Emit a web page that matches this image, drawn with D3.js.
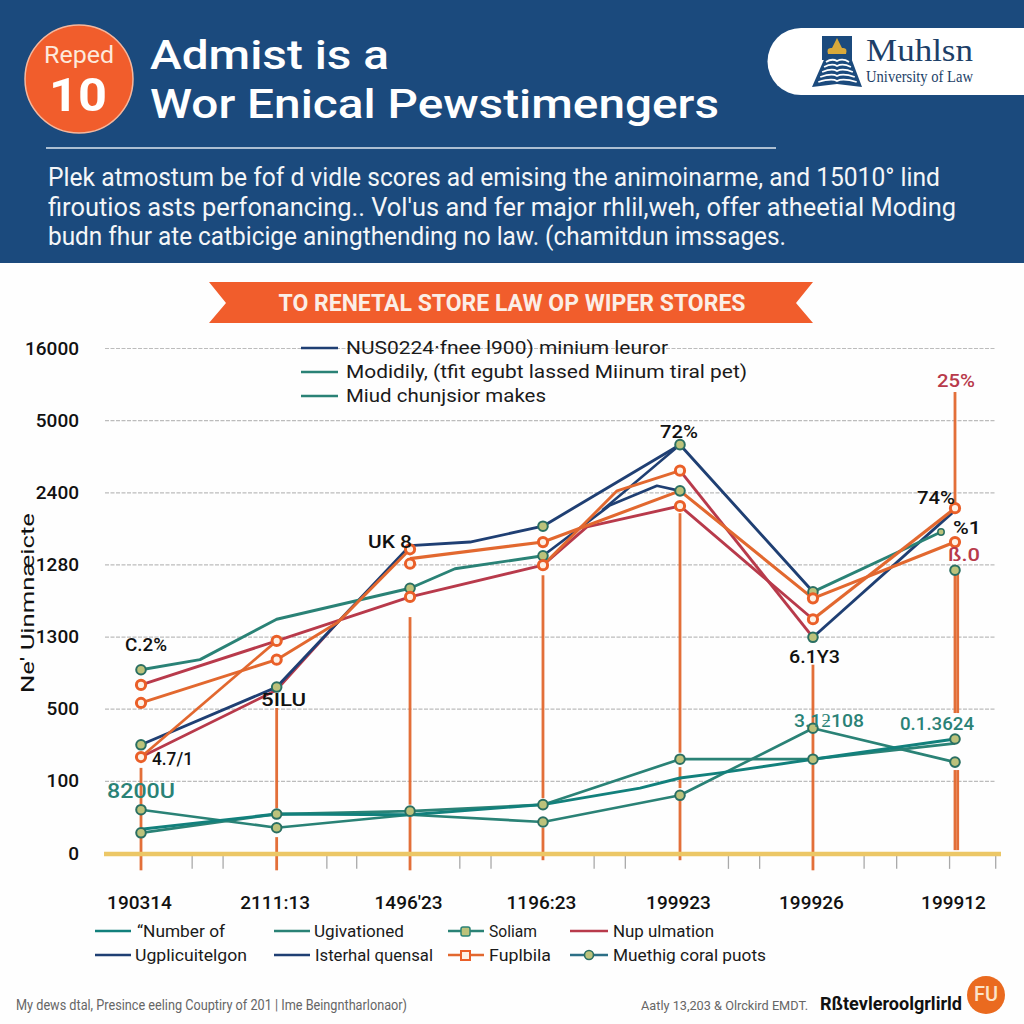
<!DOCTYPE html>
<html><head><meta charset="utf-8">
<script src="https://cdn.jsdelivr.net/npm/d3@7/dist/d3.min.js"></script>
<style>html,body{margin:0;padding:0;background:#fefefe}svg{display:block}</style>
</head><body><svg id="c" width="1024" height="1024"></svg>
<script>
// ---------- data ----------
const yTickLabels = ["0","100","500","1300","1280","2400","5000","16000"];
const xTickLabels = ["190314","2111:13","1496'23","1196:23","199923","199926","199912"];
const xCategoryPos = [0,1,1.983,2.963,3.973,4.953,6];
// each point: [position along x axis, position along the y tick ladder]
const navyA = [[0,1.50],[1,2.30],[1.983,4.26],[2.425,4.31],[2.963,4.53],[3.973,5.66],[4.953,3.62]];
const navyB = [[2.963,4.12],[3.457,4.82],[3.803,5.09],[3.973,5.02]];
const navyC = [[4.953,2.99],[6,4.75]];
const navyD = [[3.4,4.75],[3.973,5.66]];
const tealA = [[0,2.54],[0.435,2.68],[1,3.24],[1.983,3.67],[2.314,3.94],[2.963,4.12]];
const tealB = [[4.953,3.62],[5.897,4.45]];
const crimsonA = [[0,2.33],[1,2.94],[1.983,3.55],[2.963,3.99],[3.287,4.52],[3.973,4.81],[4.953,3.24]];
const crimsonB = [[0,1.33],[1,2.26],[1.452,3.20]];
const crimsonC = [[3.973,5.30],[4.953,2.99]];
const orangeA = [[0,2.08],[1,2.68],[1.452,3.20],[1.983,4.21]];
const orangeB = [[0,1.33],[1,2.94]];
const orangeC = [[1.983,4.08],[2.963,4.31],[3.973,5.02],[4.953,3.53],[6,4.31]];
const orangeD = [[2.963,3.99],[3.509,5.02],[3.973,5.30]];
const orangeE = [[4.953,3.24],[6,4.78]];
const lowA = [[0,0.60],[1,0.35],[1.983,0.53],[2.963,0.43],[3.973,0.80],[4.953,1.73],[6,1.26]];
const lowB = [[0,0.28],[1,0.54],[1.983,0.58],[2.963,0.67],[3.973,1.30],[4.953,1.30],[6,1.52]];
const lowC = [[0,0.33],[1,0.54],[1.983,0.53],[2.963,0.67],[3.678,0.90],[3.973,1.04],[4.268,1.11],[4.953,1.30],[6,1.58]];
const greenMarkers = [[0,2.54],[0,1.50],[0,0.60],[0,0.28],[1,2.30],[1,0.54],[1,0.35],[1.983,3.67],[1.983,0.58],
  [2.963,4.53],[2.963,4.12],[2.963,0.67],[2.963,0.43],[3.973,5.66],[3.973,5.02],[3.973,1.30],[3.973,0.80],
  [4.953,3.62],[4.953,2.99],[4.953,1.73],[4.953,1.30],[6,3.92],[6,1.58],[6,1.26]];
const orangeMarkers = [[0,2.33],[0,2.08],[0,1.33],[1,2.94],[1,2.68],[1.983,4.21],[1.983,4.01],[1.983,3.55],
  [2.963,4.31],[2.963,3.99],[3.973,5.30],[3.973,4.81],[4.953,3.53],[4.953,3.24],[6,4.78],[6,4.31]];
// vertical stems: [x, from, to]
const stems = [[0,1.18,.67],[0,.53,.35],[0,.21,-.24],[1,2.01,.62],[1,.22,-.24],[1.983,3.27,.67],[1.983,.50,-.24],
  [2.963,3.85,.76],[2.963,.35,-.1],[3.973,4.71,1.39],[3.973,1.19,.90],[3.973,.73,-.1],
  [4.953,2.61,1.80],[4.953,1.66,1.36],[4.953,1.22,-.24],[6,6.39,4.85],[6,3.92,1.94],[6,1.15,.04],[6.02,3.92,1.94],[6.02,1.15,.04]];
const minorTicks = [0.377,0.605,1.37,1.59,2.35,2.58,3.34,3.57,4.33,4.56,5.33,5.57,5.96,6.3];
const topLegend = ["NUS0224·fnee l900) minium leuror","Modidily, (tfit egubt lassed Miinum tiral pet)","Miud chunjsior makes"];
const bottomLegendRow1 = ["\u201CNumber of","Ugivationed","Soliam","Nup ulmation"];
const bottomLegendRow2 = ["Ugplicuitelgon","Isterhal quensal","Fuplbila","Muethig coral puots"];
const paragraph = ["Plek atmostum be fof d vidle scores ad emising the animoinarme, and 15010° lind",
  "firoutios asts perfonancing.. Vol'us and fer major rhlil,weh, offer atheetial  Moding",
  "budn fhur ate catbicige aningthending no law. (chamitdun imssages."];

// ---------- setup ----------
const svg = d3.select("#c");
const x = d3.scaleLinear().domain([0,6]).range([141,955]);
const y = d3.scaleLinear().domain([0,7]).range([853,348]);
const NAVY="#1f3f73",TEAL="#2a8276",TEAL2="#12807c",CRIM="#b83a4b",ORG="#e2682f",HEAD="#1b4a7d",BAN="#f15d2c";
function T(s,px,py,o={}){
  const t=svg.append("text").attr("x",px).attr("y",py).text(s)
    .attr("font-family",o.font||"'Open Sans'").attr("font-size",o.size||18)
    .attr("font-weight",o.weight||400).attr("fill",o.fill||"#111")
    .attr("text-anchor",o.anchor||"start").attr("dominant-baseline","central");
  if(o.w) t.attr("textLength",o.w).attr("lengthAdjust","spacingAndGlyphs");
  if(o.rot) t.attr("transform",`rotate(${o.rot} ${px} ${py})`);
  return t;
}
svg.append("rect").attr("width",1024).attr("height",1024).attr("fill","#fefefe");

// ---------- header ----------
svg.append("rect").attr("width",1024).attr("height",263).attr("fill",HEAD);
svg.append("circle").attr("cx",79).attr("cy",79).attr("r",54).attr("fill",BAN).attr("stroke","#f6b79d").attr("stroke-width",1.5);
T("Reped",79,55,{font:"Roboto",size:23,fill:"#fde9dc",anchor:"middle",w:70});
T("10",78,95,{font:"Roboto",size:46,weight:700,fill:"#fff",anchor:"middle",w:58});
T("Admist is a",150,55,{font:"Roboto",size:41,weight:500,fill:"#fff",w:239});
T("Wor Enical Pewstimengers",150,104,{font:"Roboto",size:41,weight:500,fill:"#fff",w:569});
svg.append("line").attr("x1",46).attr("x2",776).attr("y1",148).attr("y2",148).attr("stroke","#dfe7ef").attr("stroke-width",1.5);
paragraph.forEach((p,i)=>T(p,48,[177,207,236][i],{font:"Roboto",size:25,fill:"#f4f6f8",w:[892,908,738][i]}));

// logo
svg.append("path").attr("d","M1024 28H801a33.5 33.5 0 0 0 0 67H1024Z").attr("fill","#fff");
svg.append("rect").attr("x",822).attr("y",36).attr("width",30).attr("height",24).attr("fill",HEAD);
svg.append("path").attr("d","M828 54Q826 47 832 48L837 38L842 48Q848 47 846 54Z").attr("fill","#d9a93a");
svg.append("path").attr("d","M826 55H850L862 87L837 84L812 87Z").attr("fill",HEAD);
[60,65,70,75,80].forEach(v=>{const e=(v-60)/2.6;
  svg.append("path").attr("d",`M${826-e} ${v+2}Q832 ${v-2} 837 ${v+1}Q843 ${v-2} ${849+e} ${v+2}`)
    .attr("fill","none").attr("stroke","#fff").attr("stroke-width",1.8);});
T("Muhlsn",866,50,{font:"'Liberation Serif'",size:31,fill:"#1d3f68",w:107});
T("University of Law",866,76,{font:"'Liberation Serif'",size:17,fill:"#1d3f68",w:107});

// ---------- banner ----------
svg.append("path").attr("d","M209 282H813L796 303L813 323H209L226 303Z").attr("fill",BAN);
T("TO RENETAL STORE LAW OP WIPER STORES",512,303,{font:"Roboto",size:23,weight:700,fill:"#fbeee6",anchor:"middle",w:467});

// ---------- axes ----------
const grid = d3.axisLeft(y).tickValues(d3.range(1,8)).tickSize(-891).tickFormat("");
const gg = svg.append("g").attr("transform","translate(105,0)").call(grid);
gg.select(".domain").remove();
gg.selectAll("line").attr("stroke","#bcbcbc").attr("stroke-width",1.2).attr("stroke-dasharray","4 1.5");

const yAxis = d3.axisLeft(y).tickValues(d3.range(0,8)).tickSize(0).tickFormat(i=>yTickLabels[i]);
const ya = svg.append("g").attr("transform","translate(79,0)").call(yAxis);
ya.select(".domain").remove();
ya.selectAll("text").attr("x",0).attr("font-family","Roboto").attr("font-size",19).attr("font-weight",500).attr("fill","#111");
T("Ne' Uinmnæicte",27,603,{font:"Roboto",size:18,anchor:"middle",rot:-90,w:180});

const xAxis = d3.axisBottom(x).tickValues(xCategoryPos).tickSize(0).tickFormat((d,i)=>xTickLabels[i]);
const xa = svg.append("g").attr("transform","translate(-2,892)").call(xAxis);
xa.select(".domain").remove();
xa.selectAll("text").attr("y",0).attr("dy","10").attr("dominant-baseline","central")
  .attr("font-family","Roboto").attr("font-size",19).attr("font-weight",500).attr("fill","#111");

// minor ticks
svg.append("g").selectAll("line").data(minorTicks).join("line")
  .attr("x1",d=>x(d)).attr("x2",d=>x(d)).attr("y1",y(-.03)).attr("y2",y(-.22))
  .attr("stroke","#a9a9a9").attr("stroke-width",1.3);

// stems
svg.append("g").selectAll("line").data(stems).join("line")
  .attr("x1",d=>x(d[0])).attr("x2",d=>x(d[0])).attr("y1",d=>y(d[1])).attr("y2",d=>y(d[2]))
  .attr("stroke",ORG).attr("stroke-width",2.8).attr("opacity",.95);

// baseline
svg.append("line").attr("x1",104).attr("x2",1001).attr("y1",y(0)+1).attr("y2",y(0)+1).attr("stroke","#ecc766").attr("stroke-width",4.5);

// ---------- lines ----------
const line = d3.line().x(d=>x(d[0])).y(d=>y(d[1]));
const drawn = [[lowA,TEAL,2.7],[lowB,TEAL,2.7],[lowC,TEAL2,2.9],
  [crimsonB,CRIM,2.7],[navyA,NAVY,2.9],[navyB,NAVY,2.7],[navyD,NAVY,2.5],[navyC,NAVY,2.9],
  [tealA,TEAL,2.9],[tealB,TEAL,2.9],[crimsonA,CRIM,2.9],[crimsonC,CRIM,2.9],
  [orangeA,ORG,2.9],[orangeB,ORG,2.7],[orangeC,ORG,3.1],[orangeD,ORG,2.9],[orangeE,ORG,3.1]];
svg.append("g").selectAll("path").data(drawn).join("path")
  .attr("d",d=>line(d[0])).attr("fill","none").attr("stroke",d=>d[1]).attr("stroke-width",d=>d[2]).attr("stroke-linejoin","round");

// markers
svg.append("g").selectAll("circle").data(greenMarkers).join("circle")
  .attr("cx",d=>x(d[0])).attr("cy",d=>y(d[1])).attr("r",4.8)
  .attr("fill","#bcc27b").attr("stroke","#2a6f62").attr("stroke-width",2);
svg.append("circle").attr("cx",x(5.897)).attr("cy",y(4.45)).attr("r",3.2).attr("fill","#bcc27b").attr("stroke","#2a6f62").attr("stroke-width",1.5);
svg.append("g").selectAll("circle").data(orangeMarkers).join("circle")
  .attr("cx",d=>x(d[0])).attr("cy",d=>y(d[1])).attr("r",4.6)
  .attr("fill","#fdf1e6").attr("stroke","#ea5f28").attr("stroke-width",3);

// ---------- annotations ----------
const ann = [["C.2%",125,644,42,"#111",18],["4.7/1",152,758,41,"#111",18],["8200U",107,791,68,TEAL,20],["5ILU",261,699,45,"#111",18],
  ["UK 8",368,541,44,"#111",18],["72%",660,431,38,"#111",18],["25%",937,380,38,CRIM,18],["74%",917,497,38,"#111",18],
  ["%1",953,527,28,"#111",19],["6.1Y3",789,656,51,"#111",18],["3.1\u01BB108",794,720,70,TEAL,19],["0.1.3624",900,723,74,TEAL,19],["ß.0",948,554,32,CRIM,19]];
ann.forEach(a=>T(a[0],a[1],a[2],{font:"Roboto",size:a[5],weight:500,fill:a[4],w:a[3]}));

// ---------- top legend ----------
topLegend.forEach((t,i)=>{
  const py=[348,372,396][i];
  svg.append("line").attr("x1",301).attr("x2",338).attr("y1",py).attr("y2",py).attr("stroke",i?TEAL:NAVY).attr("stroke-width",2.4);
  T(t,346,py,{font:"Roboto",size:18.5,fill:"#1a1a1a",w:[322,401,200][i]});
});

// ---------- bottom legend ----------
const legendX=[[95,131,137,88],[274,310,314,90],[448,484,489,48],[570,608,613,101]];
const legendW2=[[95,131,135,112],[274,310,315,118],[448,484,489,62],[570,608,613,153]];
bottomLegendRow1.forEach((t,i)=>{
  const p=legendX[i],c=[TEAL2,TEAL,TEAL,CRIM][i];
  svg.append("line").attr("x1",p[0]).attr("x2",p[1]).attr("y1",931).attr("y2",931).attr("stroke",c).attr("stroke-width",2.6);
  if(i==2) svg.append("rect").attr("x",461).attr("y",927).attr("width",9).attr("height",9).attr("rx",2).attr("fill","#bcc27b").attr("stroke",TEAL).attr("stroke-width",1.5);
  T(t,p[2],931,{font:"Roboto",size:16.5,fill:"#1a1a1a",w:p[3]});
});
bottomLegendRow2.forEach((t,i)=>{
  const p=legendW2[i],c=[NAVY,NAVY,ORG,"#2c6f86"][i];
  svg.append("line").attr("x1",p[0]).attr("x2",p[1]).attr("y1",955).attr("y2",955).attr("stroke",c).attr("stroke-width",2.6);
  if(i==2) svg.append("rect").attr("x",461).attr("y",951).attr("width",9).attr("height",9).attr("fill","#fdf1e6").attr("stroke","#ea5f28").attr("stroke-width",2);
  if(i==3) svg.append("circle").attr("cx",589).attr("cy",955).attr("r",4.5).attr("fill","#bcc27b").attr("stroke","#2a6f62").attr("stroke-width",1.6);
  T(t,p[2],955,{font:"Roboto",size:16.5,fill:"#1a1a1a",w:p[3]});
});

// ---------- footer ----------
T("My dews dtal, Presince eeling Couptiry of 201 | Ime Beingntharlonaor)",16,1005,{font:"Roboto",size:14,fill:"#666",w:391});
T("Aatly 13,203 & Olrckird EMDT.",641,1005,{font:"Roboto",size:13.5,fill:"#666",w:167});
T("Rßtevleroolgrlirld",820,1003,{font:"Roboto",size:18,weight:700,fill:"#111",w:142});
svg.append("circle").attr("cx",986).attr("cy",995).attr("r",19).attr("fill","#ea6a1f");
T("FU",986,994,{font:"Roboto",size:20,weight:500,fill:"#fbe3c8",anchor:"middle",w:24});
</script></body></html>
